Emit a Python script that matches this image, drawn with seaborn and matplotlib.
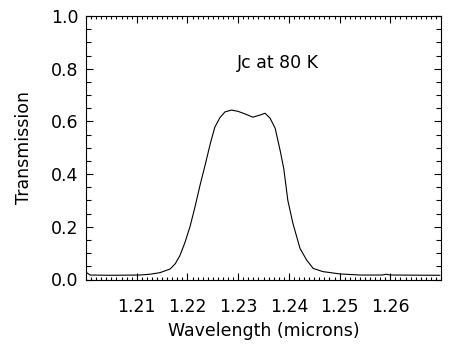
import numpy as np
import pandas as pd
import matplotlib
matplotlib.use("Agg")
import matplotlib.pyplot as plt
from matplotlib.ticker import MultipleLocator, FixedLocator
import seaborn as sns

# Filter transmission curve
wavelength = [1.2002, 1.2008, 1.2047, 1.2106, 1.2126, 1.2146, 1.2166, 1.2176,
              1.2185, 1.2195, 1.2205, 1.2215, 1.2225, 1.2235, 1.2245, 1.2254,
              1.2264, 1.2274, 1.2287, 1.2300, 1.2314, 1.2329, 1.2343, 1.2353,
              1.2363, 1.2373, 1.2383, 1.2390, 1.2398, 1.2408, 1.2422, 1.2435,
              1.2448, 1.2467, 1.2501, 1.2540, 1.2585, 1.2592, 1.2600, 1.2698]
transmission = [0.025, 0.017, 0.016, 0.017, 0.020, 0.026, 0.040, 0.060,
                0.090, 0.140, 0.200, 0.276, 0.359, 0.435, 0.515, 0.578,
                0.614, 0.636, 0.643, 0.638, 0.628, 0.616, 0.624, 0.631,
                0.612, 0.574, 0.488, 0.420, 0.300, 0.213, 0.118, 0.074,
                0.042, 0.030, 0.021, 0.017, 0.017, 0.020, 0.017, 0.016]
x_ticks = [1.21, 1.22, 1.23, 1.24, 1.25, 1.26]
x_tick_labels = ["1.21", "1.22", "1.23", "1.24", "1.25", "1.26"]
y_ticks = [0.0, 0.2, 0.4, 0.6, 0.8, 1.0]
y_tick_labels = ["0.0", "0.2", "0.4", "0.6", "0.8", "1.0"]
annotation = "Jc at 80 K"

df = pd.DataFrame({"Wavelength": wavelength, "Transmission": transmission})

sns.set_style("ticks")
plt.rcParams["font.family"] = ["DejaVu Sans"]
plt.rcParams["text.color"] = "black"
plt.rcParams["axes.labelcolor"] = "black"
plt.rcParams["xtick.labelcolor"] = "black"
plt.rcParams["ytick.labelcolor"] = "black"

fig = plt.figure(figsize=(4.6, 3.54), dpi=100)
ax = fig.add_axes([86 / 460, 1 - 279.5 / 354, (441 - 86) / 460, (279.5 - 16) / 354])

sns.lineplot(data=df, x="Wavelength", y="Transmission", ax=ax,
             color="black", linewidth=0.8, sort=False)

ax.set_xlim(1.20, 1.27)
ax.set_ylim(0.0, 1.0)

ax.xaxis.set_major_locator(FixedLocator(x_ticks))
ax.set_xticklabels(x_tick_labels)
ax.xaxis.set_minor_locator(MultipleLocator(0.001))
ax.yaxis.set_major_locator(FixedLocator(y_ticks))
ax.set_yticklabels(y_tick_labels)
ax.yaxis.set_minor_locator(MultipleLocator(0.05))

ax.tick_params(which="both", direction="in", top=True, right=True,
               color="black", width=0.8, labelcolor="black")
ax.tick_params(which="major", length=5)
ax.tick_params(which="minor", length=2.5)
ax.tick_params(axis="x", which="major", labelsize=12.5, pad=13.5)
ax.tick_params(axis="y", which="major", labelsize=12.5, pad=5.5)
ax.tick_params(axis="y", which="minor", length=3.5)

for spine in ax.spines.values():
    spine.set_visible(True)
    spine.set_color("black")
    spine.set_linewidth(0.8)

ax.set_xlabel("Wavelength (microns)", fontsize=12.5, labelpad=4, color="black")
ax.set_ylabel("Transmission", fontsize=12.5, labelpad=13, color="black")

ax.text(1.2298, 0.82, annotation, fontsize=12.5, ha="left", va="center",
        color="black")

fig.savefig("out.png", dpi=100, facecolor="white")
